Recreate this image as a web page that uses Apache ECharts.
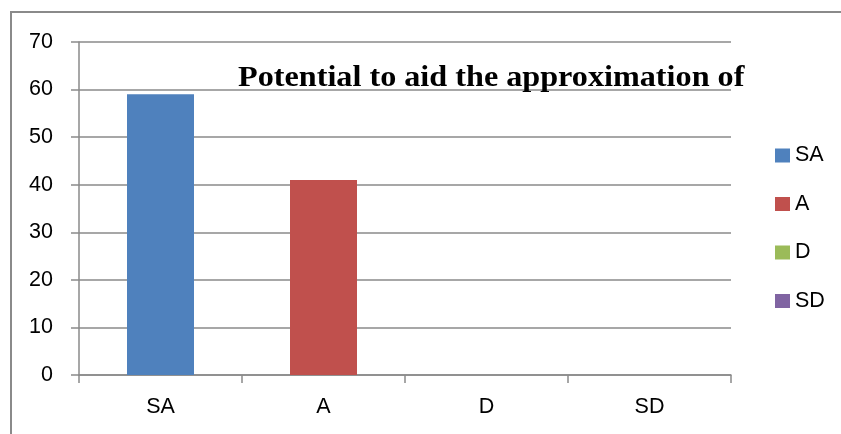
<!DOCTYPE html>
<html>
<head>
<meta charset="utf-8">
<script src="https://cdn.jsdelivr.net/npm/echarts@6/dist/echarts.min.js"></script>
<style>
  html, body { margin: 0; padding: 0; background: #fff; }
  #chart { width: 841px; height: 434px; }
</style>
</head>
<body>
<div id="chart"></div>
<script>
// Response categories and the share for each response
const categories = ['SA', 'A', 'D', 'SD'];
const saValues = [59, '-', '-', '-'];
const aValues = ['-', 41, '-', '-'];
const dValues = ['-', '-', 0, '-'];
const sdValues = ['-', '-', '-', 0];
const titleText = 'Potential to aid the approximation of';
const yMin = 0, yMax = 70, yStep = 10;

const axisGray = '#8a8a8a';
const labelFont = 'Liberation Sans';
const labelSize = 21.5;

const chart = echarts.init(document.getElementById('chart'), null, { renderer: 'canvas' });

function barSeries(name, values, color) {
  return {
    name: name,
    type: 'bar',
    stack: 'all',
    barWidth: 67,
    data: values,
    itemStyle: { color: color },
    emphasis: { disabled: true }
  };
}

chart.setOption({
  animation: false,
  backgroundColor: '#ffffff',
  grid: { left: 79, top: 42, right: 110, bottom: 59 },
  legend: {
    orient: 'vertical',
    left: 775,
    top: 144,
    padding: 0,
    icon: 'rect',
    itemWidth: 15,
    itemHeight: 14,
    itemGap: 25.5,
    textStyle: { fontFamily: labelFont, fontSize: labelSize, color: '#000', lineHeight: 23 },
    data: categories
  },
  xAxis: {
    type: 'category',
    data: categories,
    axisLine: { lineStyle: { color: axisGray, width: 1.5 } },
    axisTick: { show: true, length: 8, lineStyle: { color: axisGray, width: 1.5 } },
    axisLabel: { fontFamily: labelFont, fontSize: labelSize, color: '#000', margin: 21 }
  },
  yAxis: {
    type: 'value',
    min: yMin,
    max: yMax,
    interval: yStep,
    axisLine: { show: true, lineStyle: { color: axisGray, width: 1.5 } },
    axisTick: { show: true, length: 8, lineStyle: { color: axisGray, width: 1.5 } },
    splitLine: { show: true, lineStyle: { color: axisGray, width: 1.5 } },
    axisLabel: { fontFamily: labelFont, fontSize: labelSize, color: '#000', margin: 26 }
  },
  graphic: [
    {
      type: 'rect',
      silent: true,
      shape: { x: 11, y: 12, width: 900, height: 500 },
      style: { fill: 'none', stroke: axisGray, lineWidth: 2 }
    },
    {
      type: 'text',
      silent: true,
      x: 238,
      y: 79,
      scaleX: 1.11,
      z: 10,
      style: {
        text: titleText,
        font: 'bold 29px "Liberation Serif"',
        fill: '#000',
        verticalAlign: 'middle'
      }
    }
  ],
  series: [
    barSeries('SA', saValues, '#4f81bd'),
    barSeries('A', aValues, '#c0504d'),
    barSeries('D', dValues, '#9bbb59'),
    barSeries('SD', sdValues, '#8064a2')
  ]
});
</script>
</body>
</html>
